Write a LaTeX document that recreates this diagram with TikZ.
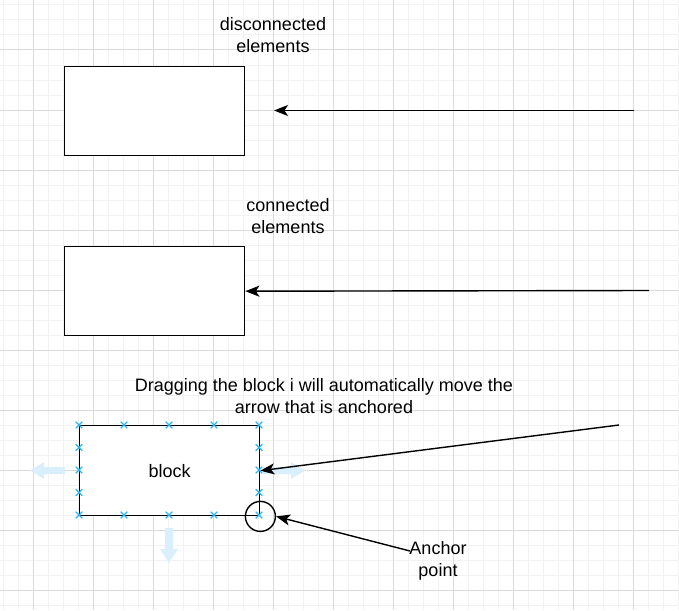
\documentclass[tikz,border=0pt]{standalone}
\usepackage{fontspec}
\setmainfont{Liberation Sans}
\usetikzlibrary{arrows.meta}
\definecolor{gminor}{HTML}{F2F2F2}
\definecolor{gmajor}{HTML}{DADADA}
\definecolor{xblue}{HTML}{29B6F2}
\definecolor{lblue}{HTML}{D9EFFB}
\begin{document}
\begin{tikzpicture}[x=1pt,y=-1pt,
  box/.style={draw=black,line width=1.4pt,fill=white,minimum width=180pt,minimum height=89pt,inner sep=0pt,anchor=north west},
  lbl/.style={font=\fontsize{18}{22}\selectfont,align=center,inner sep=0pt},
  conn/.style={draw=black,line width=1.4pt,-{Stealth[length=14pt,width=11pt,inset=3.5pt]}},
  xmark/.style={draw=xblue,line width=1.2pt},
  ghost/.style={fill=lblue,draw=none}]
\useasboundingbox (0,0) rectangle (679,610);
\fill[white] (0,0) rectangle (679,610);
% grid
\foreach \x in {3,18,...,678} \draw[gminor,line width=1pt] (\x,0) -- (\x,610);
\foreach \y in {5,20,...,609} \draw[gminor,line width=1pt] (0,\y) -- (679,\y);
\foreach \x in {33,93,...,678} \draw[gmajor,line width=1pt] (\x,0) -- (\x,610);
\foreach \y in {50,110,...,609} \draw[gmajor,line width=1pt] (0,\y) -- (679,\y);
% top
\node[lbl] (t1) at (273,35) {disconnected\\elements};
\node[box] (b1) at (64,66) {};
\coordinate (s1) at (634,110.5);
\coordinate (e1) at (274,110.5);
\draw[conn] (s1) -- (e1);
% middle
\node[lbl] (t2) at (288,216) {connected\\elements};
\node[box] (b2) at (64,246) {};
\coordinate (s2) at (649,290.5);
\draw[conn] (s2) -- (b2.east);
% bottom
\node[lbl] (t3) at (324,396) {Dragging the block i will automatically move the\\arrow that is anchored};
% ghost arrows
\fill[ghost] (30,470.5) -- (44,462) -- (44,467) -- (65,467) -- (65,474) -- (44,474) -- (44,479) -- cycle;
\fill[ghost] (305,470.5) -- (291,462) -- (291,467) -- (263,467) -- (263,474) -- (291,474) -- (291,479) -- cycle;
\fill[ghost] (169,563) -- (160,549) -- (165,549) -- (165,528) -- (173,528) -- (173,549) -- (178,549) -- cycle;
\node[box,minimum height=90pt,font=\fontsize{18}{22}\selectfont] (blk) at (79,425) {block};
\foreach \px/\py in {79/425,124/425,169/425,214/425,259/425,79/515,124/515,169/515,214/515,259/515,79/447.5,79/470,79/492.5,259/447.5,259/470,259/492.5}
  \draw[xmark] (\px-3.3,\py-3.3) -- (\px+3.3,\py+3.3) (\px-3.3,\py+3.3) -- (\px+3.3,\py-3.3);
\node[draw=black,line width=1.4pt,circle,minimum size=30pt,inner sep=0pt] (anc) at (blk.south east) {};
\coordinate (s3) at (619,425);
\draw[conn] (s3) -- (blk.east);
\node[lbl] (t4) at (438,561) {Anchor\\point};
\coordinate (s4) at (410,551);
\draw[conn] (s4) -- (anc.east);
\end{tikzpicture}
\end{document}
